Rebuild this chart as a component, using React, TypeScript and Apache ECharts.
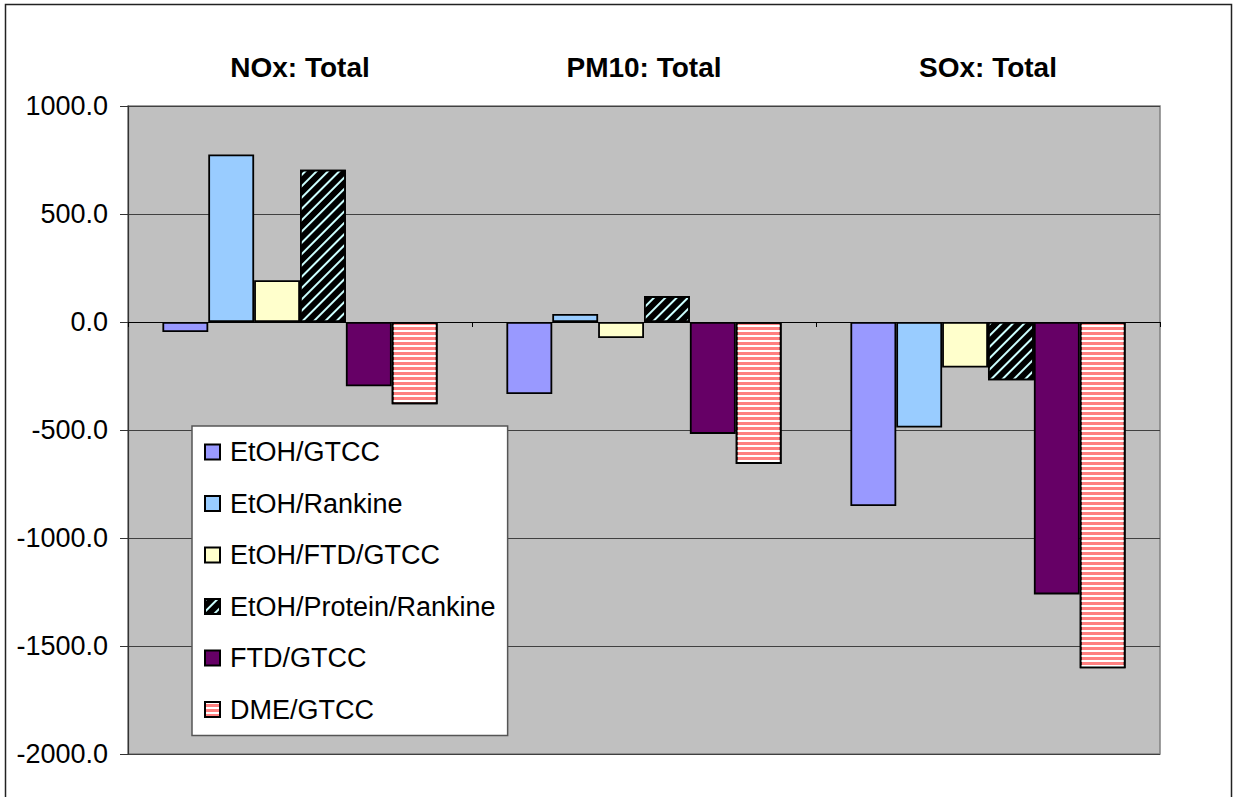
import React, { useEffect, useRef } from "react";
import * as echarts from "echarts";

const categories = ["NOx: Total", "PM10: Total", "SOx: Total"];

const etohGtcc = [-46, -333, -852];
const etohRankine = [776, 37, -489];
const etohFtdGtcc = [193, -74, -211];
const etohProteinRankine = [705, 120, -270];
const ftdGtcc = [-298, -518, -1261];
const dmeGtcc = [-381, -657, -1603];

const yTicks = { min: -2000, max: 1000, interval: 500 };

const FONT = "'Liberation Sans', Arial, sans-serif";

const App: React.FC = () => {
  const chartRef = useRef<HTMLDivElement>(null);

  useEffect(() => {
    document.body.style.margin = "0";
    const chart = echarts.init(chartRef.current!, null, { renderer: "svg" });

    const border = { borderColor: "#000", borderWidth: 1.8 };

    const makeSeries = (name: string, data: number[], itemStyle: any) => ({
      name,
      type: "bar" as const,
      data,
      barGap: "0%",
      barCategoryGap: "20%",
      itemStyle: { ...border, ...itemStyle },
      emphasis: { disabled: true }
    });

    const option: echarts.EChartsOption = {
      animation: false,
      backgroundColor: "#ffffff",
      textStyle: { fontFamily: FONT },
      graphic: [
        {
          type: "rect",
          shape: { x: 5.5, y: 4.5, width: 1226, height: 810 },
          style: { fill: "none", stroke: "#222", lineWidth: 1.5 },
          silent: true,
          z: -10
        }
      ],
      grid: {
        left: 128,
        top: 106,
        width: 1032,
        height: 648,
        show: true,
        backgroundColor: "#c0c0c0",
        borderColor: "#808080",
        borderWidth: 1.5
      },
      legend: {
        orient: "vertical",
        left: 192,
        top: 426,
        itemWidth: 15,
        itemHeight: 15,
        itemGap: 23.5,
        icon: "rect",
        padding: [12, 12, 12, 12],
        backgroundColor: "#ffffff",
        borderColor: "#555",
        borderWidth: 1.5,
        selectedMode: false,
        textStyle: {
          fontFamily: FONT,
          fontSize: 27,
          lineHeight: 28,
          color: "#000",
          padding: [0, 0, 0, 5]
        },
        data: [
          "EtOH/GTCC",
          "EtOH/Rankine",
          "EtOH/FTD/GTCC",
          "EtOH/Protein/Rankine",
          "FTD/GTCC",
          "DME/GTCC"
        ]
      },
      xAxis: [
        {
          type: "category",
          data: categories,
          position: "bottom",
          axisLine: { onZero: true, lineStyle: { color: "#000", width: 1.2 } },
          axisTick: { show: true, length: 5, interval: 0, lineStyle: { color: "#000" } },
          axisLabel: { show: false },
          splitLine: { show: false }
        },
        {
          type: "category",
          data: categories,
          position: "top",
          axisLine: { show: false, onZero: false },
          axisTick: { show: false },
          axisLabel: {
            show: true,
            margin: 25,
            fontFamily: FONT,
            fontSize: 28,
            fontWeight: "bold",
            color: "#000"
          }
        }
      ],
      yAxis: {
        type: "value",
        min: yTicks.min,
        max: yTicks.max,
        interval: yTicks.interval,
        axisLine: { show: true, lineStyle: { color: "#333", width: 1.2 } },
        axisTick: { show: true, length: 8, lineStyle: { color: "#333" } },
        axisLabel: {
          margin: 20,
          fontFamily: FONT,
          fontSize: 27,
          color: "#000",
          formatter: (v: number) => v.toFixed(1)
        },
        splitLine: { show: true, lineStyle: { color: "#404040", width: 1.2 } }
      },
      series: [
        makeSeries("EtOH/GTCC", etohGtcc, { color: "#9999ff" }),
        makeSeries("EtOH/Rankine", etohRankine, { color: "#99ccff" }),
        makeSeries("EtOH/FTD/GTCC", etohFtdGtcc, { color: "#ffffcc" }),
        makeSeries("EtOH/Protein/Rankine", etohProteinRankine, {
          color: "#000000",
          decal: {
            symbol: "rect",
            symbolSize: 1,
            color: "#ccffff",
            dashArrayX: [1, 0],
            dashArrayY: [2, 6],
            rotation: -Math.PI / 4
          }
        }),
        makeSeries("FTD/GTCC", ftdGtcc, { color: "#660066" }),
        makeSeries("DME/GTCC", dmeGtcc, {
          color: "#ff8080",
          decal: {
            symbol: "rect",
            symbolSize: 1,
            color: "#ffffff",
            dashArrayX: [1, 0],
            dashArrayY: [1.5, 2.5],
            rotation: 0
          }
        })
      ]
    };

    chart.setOption(option);

    const handleResize = () => chart.resize();
    window.addEventListener("resize", handleResize);

    return () => {
      window.removeEventListener("resize", handleResize);
      chart.dispose();
    };
  }, []);

  return <div ref={chartRef} style={{ width: "1233px", height: "797px" }} />;
};

export default App;
